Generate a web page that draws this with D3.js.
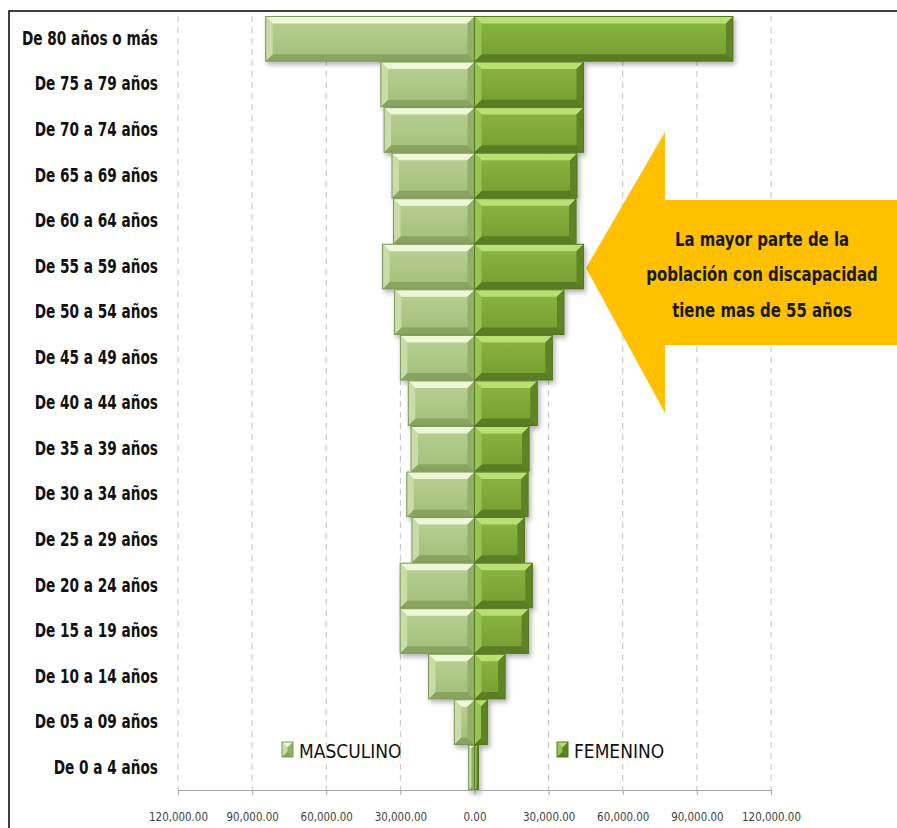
<!DOCTYPE html>
<html>
<head>
<meta charset="utf-8">
<script src="https://cdnjs.cloudflare.com/ajax/libs/d3/7.8.5/d3.min.js"></script>
<style>
  body { margin: 0; background: #fff; }
  svg { display: block; }
  text { font-family: "DejaVu Sans Condensed", "DejaVu Sans", sans-serif; font-stretch: condensed; }
  .cat text { font-weight: bold; font-size: 19px; fill: #111; }
  .xax text { font-size: 13px; fill: #404040; }
</style>
</head>
<body>
<div id="canvas"></div>
<script>
// age groups, top to bottom
const categories = [
  "De 80 años o más", "De 75 a 79 años", "De 70 a 74 años", "De 65 a 69 años",
  "De 60 a 64 años", "De 55 a 59 años", "De 50 a 54 años", "De 45 a 49 años",
  "De 40 a 44 años", "De 35 a 39 años", "De 30 a 34 años", "De 25 a 29 años",
  "De 20 a 24 años", "De 15 a 19 años", "De 10 a 14 años", "De 05 a 09 años",
  "De 0 a 4 años"
];
const masculino = [84500, 37900, 36600, 33400, 32800, 37200, 32400, 30000,
  26800, 25700, 27400, 25300, 30100, 30100, 18600, 8200, 2400];
const femenino = [104600, 44100, 44100, 41500, 41100, 44100, 36200, 31500,
  25400, 22100, 21700, 20200, 23400, 21900, 12400, 5300, 1600];
const tickValues = [-120000, -90000, -60000, -30000, 0, 30000, 60000, 90000, 120000];
const seriesNames = ["MASCULINO", "FEMENINO"];
const noteLines = ["La mayor parte de la", "población con discapacidad", "tiene mas de 55 años"];

const W = 897, H = 828;
const svg = d3.select("#canvas").append("svg").attr("width", W).attr("height", H);

const x = d3.scaleLinear().domain([-120000, 120000]).range([178, 771]);
const y = d3.scaleBand().domain(categories).range([16.5, 790]).paddingInner(0.02);

// colours for the two series: face top, face bottom, top bevel, bottom bevel, sides, stroke
const pal = {
  m: { f1: "#b9d196", f2: "#a2be77", top: "#eef7d6", bot: "#88a461", side: "#c9dca9", side2: "#93ae6b", stroke: "#7d9858" },
  f: { f1: "#8bb742", f2: "#739d31", top: "#b8e072", bot: "#597d22", side: "#98c451", side2: "#5f8425", stroke: "#56761f" }
};

const defs = svg.append("defs");
Object.keys(pal).forEach(k => {
  const g = defs.append("linearGradient").attr("id", "face-" + k)
    .attr("x1", 0).attr("y1", 0).attr("x2", 0).attr("y2", 1);
  g.append("stop").attr("offset", "0%").attr("stop-color", pal[k].f1);
  g.append("stop").attr("offset", "100%").attr("stop-color", pal[k].f2);
});
const sh = defs.append("filter").attr("id", "shadow").attr("x", "-10%").attr("y", "-10%").attr("width", "130%").attr("height", "140%");
sh.append("feDropShadow").attr("dx", 2).attr("dy", 3).attr("stdDeviation", 2.5).attr("flood-color", "#000").attr("flood-opacity", 0.3);

// frame
svg.append("rect").attr("x", 9).attr("y", 11).attr("width", 920).attr("height", 840)
  .attr("fill", "none").attr("stroke", "#000").attr("stroke-width", 1.5);

// grid
svg.append("g").selectAll("line").data(tickValues.filter(d => d !== 0)).join("line")
  .attr("x1", d => x(d)).attr("x2", d => x(d))
  .attr("y1", 16).attr("y2", 790)
  .attr("stroke", "#c0c0c0").attr("stroke-dasharray", "6,5");

// arrow callout
const ap = [[586, 268], [665, 132], [665, 200], [905, 200], [905, 345], [665, 345], [665, 413]];
svg.append("path").attr("d", d3.line()(ap) + "Z").attr("fill", "#ffc000");
svg.append("g").attr("transform", "translate(762,246) scale(0.83,1)")
  .append("text").attr("text-anchor", "middle")
  .style("font-weight", "bold").style("font-size", "20px").attr("fill", "#1a1a1a")
  .selectAll("tspan").data(noteLines).join("tspan")
  .attr("x", 0).attr("dy", (d, i) => i === 0 ? 0 : 35.5).text(d => d);

// bars
function bevelBar(g, x0, x1, y0, y1, p) {
  const b = Math.min(7, (x1 - x0) / 2, (y1 - y0) / 2);
  const grp = g.append("g");
  grp.append("rect").attr("x", x0).attr("y", y0).attr("width", x1 - x0).attr("height", y1 - y0)
    .attr("fill", "url(#face-" + p + ")");
  const c = pal[p];
  const poly = (pts, fill) => grp.append("path").attr("d", d3.line()(pts) + "Z").attr("fill", fill);
  poly([[x0, y0], [x1, y0], [x1 - b, y0 + b], [x0 + b, y0 + b]], c.top);
  poly([[x0, y1], [x1, y1], [x1 - b, y1 - b], [x0 + b, y1 - b]], c.bot);
  poly([[x0, y0], [x0 + b, y0 + b], [x0 + b, y1 - b], [x0, y1]], c.side);
  poly([[x1, y0], [x1 - b, y0 + b], [x1 - b, y1 - b], [x1, y1]], c.side2);
  grp.append("rect").attr("x", x0).attr("y", y0).attr("width", x1 - x0).attr("height", y1 - y0)
    .attr("fill", "none").attr("stroke", c.stroke).attr("stroke-width", 1);
}

const barsG = svg.append("g").attr("filter", "url(#shadow)");
categories.forEach((cat, i) => {
  const y0 = y(cat), y1 = y(cat) + y.bandwidth();
  bevelBar(barsG, x(-masculino[i]), x(0), y0, y1, "m");
  bevelBar(barsG, x(0), x(femenino[i]), y0, y1, "f");
});

// x axis
const xAxis = svg.append("g").attr("class", "xax").attr("transform", "translate(0,790)")
  .call(d3.axisBottom(x).tickValues(tickValues).tickSize(5).tickPadding(17)
    .tickFormat(d => d3.format(",.2f")(Math.abs(d))));
xAxis.selectAll("line, path").attr("stroke", "#a6a6a6");
xAxis.selectAll("text").attr("transform", "scale(0.88,1)");

// category axis
const yAxis = svg.append("g").attr("class", "cat").attr("transform", "translate(178,0)")
  .call(d3.axisLeft(y).tickSize(0).tickPadding(20));
yAxis.select(".domain").remove();
yAxis.selectAll("text").attr("x", 0).attr("transform", "translate(-20,0) scale(0.8,1)");

// legend
const leg = svg.append("g");
const legPos = [282, 557];
seriesNames.forEach((n, i) => {
  const p = i === 0 ? "m" : "f";
  const lx = legPos[i], ly = 742;
  bevelBar(leg, lx, lx + 11, ly, ly + 15, p);
  leg.append("g").attr("transform", `translate(${lx + 17},${ly + 16}) scale(0.95,1)`)
    .append("text").style("font-size", "20px").attr("fill", "#111").text(n);
});
</script>
</body>
</html>
